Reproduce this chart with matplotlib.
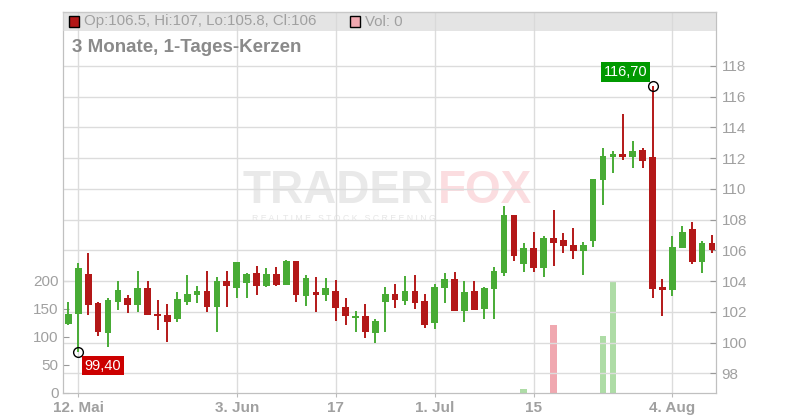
import numpy as np
import pandas as pd
import matplotlib
matplotlib.use("Agg")
from matplotlib import pyplot as plt
from matplotlib.patches import Rectangle

plt.rcParams['font.family'] = ['Liberation Sans', 'DejaVu Sans']

# daily candles, 9 May .. 8 Aug
dates = pd.bdate_range('2025-05-09', periods=66)
opens = [101.21, 101.86, 104.44, 102.56, 100.63, 102.64, 102.88, 102.45, 103.53, 101.84,
         101.78, 101.54, 102.64, 103.10, 103.34, 102.32, 103.99, 103.55, 103.88, 104.51,
         103.68, 104.49, 103.75, 105.29, 103.03, 103.27, 103.10, 103.34, 102.30, 101.60,
         101.71, 100.63, 102.64, 103.14, 102.71, 103.34, 102.69, 101.28, 103.55, 104.16,
         102.06, 103.34, 102.19, 103.49, 104.53, 108.27, 105.11, 106.13, 104.85, 106.78,
         106.65, 106.32, 105.95, 106.63, 110.60, 112.10, 112.27, 112.10, 112.53, 112.08,
         103.62, 103.44, 106.18, 107.39, 105.27, 106.50]
highs = [102.62, 105.16, 105.81, 102.64, 102.88, 103.99, 103.08, 104.64, 103.99, 102.75,
         102.49, 103.27, 104.38, 103.66, 104.64, 104.25, 104.64, 105.22, 104.51, 104.96,
         104.83, 104.94, 105.35, 105.29, 104.38, 104.25, 104.18, 104.05, 102.88, 102.04,
         102.49, 101.52, 103.60, 103.79, 104.31, 104.38, 103.14, 103.79, 104.51, 104.57,
         103.99, 103.99, 103.60, 104.90, 108.92, 108.27, 106.45, 107.17, 106.91, 108.60,
         107.10, 107.43, 106.52, 110.65, 112.66, 112.47, 114.90, 113.14, 112.66, 116.70,
         104.14, 106.96, 107.61, 107.85, 106.61, 107.00]
lows = [101.15, 99.40, 101.80, 100.44, 99.72, 102.12, 101.93, 101.99, 101.80, 100.82,
        100.05, 101.34, 102.45, 102.58, 101.99, 100.69, 102.32, 102.90, 102.90, 103.10,
        103.62, 103.68, 103.75, 102.64, 102.38, 101.99, 102.71, 101.41, 101.15, 100.69,
        100.31, 99.98, 100.69, 102.25, 102.45, 102.19, 100.95, 100.89, 102.58, 102.06,
        101.34, 102.12, 101.54, 101.54, 104.33, 105.31, 104.59, 104.59, 104.27, 104.98,
        105.82, 105.44, 104.40, 106.24, 108.98, 111.06, 111.90, 111.38, 111.38, 102.92,
        101.75, 103.05, 106.18, 105.14, 104.55, 105.80]
closes = [101.84, 104.83, 102.45, 100.70, 102.75, 103.40, 102.45, 103.53, 101.80, 101.71,
          101.34, 102.82, 103.14, 103.34, 102.32, 103.99, 103.68, 105.22, 104.44, 103.68,
          104.49, 103.75, 105.29, 103.10, 104.18, 103.10, 103.53, 102.25, 101.73, 101.71,
          100.69, 101.39, 103.14, 102.77, 103.34, 102.58, 101.15, 103.60, 104.12, 102.06,
          103.27, 102.12, 103.53, 104.64, 108.27, 105.63, 106.13, 104.85, 106.78, 106.47,
          106.28, 105.95, 106.32, 110.65, 112.14, 112.27, 112.10, 112.47, 111.84, 103.51,
          103.44, 106.22, 107.20, 105.27, 106.48, 106.00]
volumes = [0, 0, 0, 0, 0, 0, 0, 0, 0, 0,
           0, 0, 0, 0, 0, 0, 0, 0, 0, 0,
           0, 0, 0, 0, 0, 0, 0, 0, 0, 0,
           0, 0, 0, 0, 0, 0, 0, 0, 0, 0,
           0, 0, 0, 0, 0, 0, 7, 0, 0, 121,
           0, 0, 0, 0, 101, 200, 0, 0, 0, 0,
           0, 0, 0, 0, 0, 0]

tick_dates = ['2025-05-12', '2025-06-03', '2025-06-17', '2025-07-01', '2025-07-15', '2025-08-04']
tick_labels = ['12. Mai', '3. Jun', '17', '1. Jul', '15', '4. Aug']
price_ticks = [98, 100, 102, 104, 106, 108, 110, 112, 114, 116, 118]
vol_ticks = [0, 50, 100, 150, 200]

GREEN = '#48ab35'
RED = '#b31818'
GREEN_V = '#aedca6'
RED_V = '#f0a8b0'
GRID = '#dcdcdc'
TXT = '#a0a0a0'

o = np.array(opens); h = np.array(highs); l = np.array(lows); c = np.array(closes)
x = np.arange(len(dates))
up = c >= o
cols = np.where(up, GREEN, RED)

W, H = 800, 420
fig = plt.figure(figsize=(8, 4.2), dpi=100)
L, R, B, T = 63, 716, 392.7, 12
axv = fig.add_axes([L / W, (H - B) / H, (R - L) / W, (B - T) / H])
ax = axv.twinx()

# volume axis (left), also carries the date axis
axv.bar(x, volumes, width=0.68, color=np.where(up, GREEN_V, RED_V), zorder=2)
axv.set_ylim(0, 680)
axv.set_yticks(vol_ticks)
axv.tick_params(axis='y', direction='in', length=4, color='#999999', labelcolor=TXT,
                labelsize=11, pad=3)

pos = [dates.get_loc(pd.Timestamp(d)) for d in tick_dates]
axv.set_xticks(pos)
axv.set_xticklabels(tick_labels, fontweight='bold')
axv.set_xlim(-0.545, 65.41)
axv.tick_params(axis='x', direction='out', length=3, color='#bbbbbb', labelcolor=TXT,
                labelsize=11, pad=3)
axv.grid(True, axis='x', color=GRID, lw=1, zorder=0)
axv.set_axisbelow(True)

# watermark
axv.text(0.275, 0.53, 'TRADER', transform=axv.transAxes, fontsize=33, fontweight='bold',
         color='#e9e9e9', ha='left', va='center', zorder=0)
axv.text(0.574, 0.53, 'FOX', transform=axv.transAxes, fontsize=33, fontweight='bold',
         color='#fbdde0', ha='left', va='center', zorder=0)
axv.text(0.29, 0.457, 'R E A L T I M E   S T O C K   S C R E E N I N G', transform=axv.transAxes,
         fontsize=6.3, color='#e6e6e6', ha='left', va='center', zorder=0)

# price candles (right)
ax.vlines(x, l, h, colors=cols, lw=1.4, zorder=3)
body = np.maximum(np.abs(c - o), 0.12)
ax.bar(x, body, bottom=np.minimum(o, c), width=0.68, color=cols, zorder=4)
ax.set_ylim(96.74, 121.51)
ax.set_yticks(price_ticks)
ax.tick_params(axis='y', direction='in', length=4, color='#999999', labelcolor=TXT,
               labelsize=11, pad=4)
ax.grid(True, axis='y', color=GRID, lw=1, zorder=0)
ax.set_axisbelow(True)

for a in (ax, axv):
    for s in a.spines.values():
        s.set_color('#c0c0c0')
    a.spines['top'].set_visible(False)

# low / high markers
ilo = int(np.argmin(l)); ihi = int(np.argmax(h))
ax.plot([x[ilo], x[ihi]], [l[ilo], h[ihi]], 'o', ms=7, mfc='none', mec='black', mew=1, zorder=6)
ax.annotate(f'{l[ilo]:.2f}'.replace('.', ','), (x[ilo], l[ilo]), xytext=(6, -7),
            textcoords='offset pixels', ha='left', va='top', color='white', fontsize=10.5,
            bbox=dict(boxstyle='square,pad=0.18', fc='#cc0000', ec='none'), zorder=7)
ax.annotate(f'{h[ihi]:.2f}'.replace('.', ','), (x[ihi], h[ihi]), xytext=(-5, 7),
            textcoords='offset pixels', ha='right', va='bottom', color='white', fontsize=10.5,
            bbox=dict(boxstyle='square,pad=0.18', fc='#009900', ec='none'), zorder=7)

# header band with last candle info
fig.add_artist(Rectangle((L / W, 1 - 31 / H), (R - L) / W, 19 / H, transform=fig.transFigure,
                         fc='#d9d9d9', ec='none', alpha=0.7))
fig.add_artist(plt.Line2D([L / W, R / W], [1 - T / H, 1 - T / H], transform=fig.transFigure,
                          color='#c8c8c8', lw=1))
fig.add_artist(Rectangle((68.5 / W, 1 - 26.5 / H), 10 / W, 10 / H, transform=fig.transFigure,
                         fc=cols[-1], ec='black', lw=1))
fig.text(84 / W, 1 - 21.5 / H,
         f'Op:{o[-1]:g}, Hi:{h[-1]:g}, Lo:{l[-1]:g}, Cl:{c[-1]:g}',
         fontsize=10.8, color=TXT, va='center', ha='left')
fig.add_artist(Rectangle((350 / W, 1 - 26.5 / H), 10 / W, 10 / H, transform=fig.transFigure,
                         fc=RED_V, ec='black', lw=1))
fig.text(365 / W, 1 - 21.5 / H, f'Vol: {volumes[-1]}', fontsize=10.8, color=TXT,
         va='center', ha='left')

fig.text(72 / W, 1 - 47 / H, '3 Monate, 1-Tages-Kerzen', fontsize=13.5, fontweight='bold',
         color='#8a8a8a', va='center', ha='left')

fig.savefig('out.png', dpi=100)
